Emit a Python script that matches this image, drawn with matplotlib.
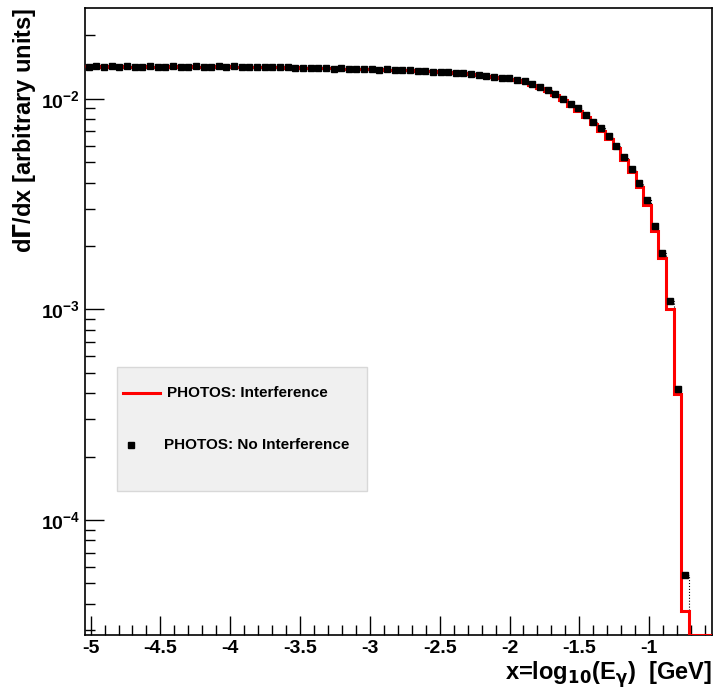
import numpy as np
import matplotlib
matplotlib.use("Agg")
import matplotlib.pyplot as plt
from matplotlib.ticker import LogLocator, MultipleLocator, NullFormatter, FixedLocator

plt.rcParams['font.family'] = ['Liberation Sans', 'DejaVu Sans']
plt.rcParams['font.weight'] = 'bold'

x_min, x_max = -5.04, -0.55
n_bins = 82
edges = np.linspace(x_min, x_max, n_bins + 1)

interference = [
    1.425e-2, 1.42e-2, 1.425e-2, 1.42e-2, 1.425e-2, 1.42e-2, 1.42e-2, 1.425e-2, 1.42e-2, 1.42e-2,
    1.425e-2, 1.42e-2, 1.425e-2, 1.425e-2, 1.42e-2, 1.42e-2, 1.425e-2, 1.42e-2, 1.425e-2, 1.42e-2,
    1.42e-2, 1.415e-2, 1.42e-2, 1.41e-2, 1.415e-2, 1.41e-2, 1.405e-2, 1.41e-2, 1.405e-2, 1.40e-2,
    1.40e-2, 1.395e-2, 1.40e-2, 1.39e-2, 1.39e-2, 1.385e-2, 1.385e-2, 1.38e-2, 1.38e-2, 1.375e-2,
    1.37e-2, 1.37e-2, 1.365e-2, 1.36e-2, 1.355e-2, 1.35e-2, 1.345e-2, 1.34e-2, 1.33e-2, 1.32e-2,
    1.31e-2, 1.30e-2, 1.29e-2, 1.27e-2, 1.26e-2, 1.245e-2, 1.23e-2, 1.20e-2, 1.165e-2, 1.13e-2,
    1.09e-2, 1.04e-2, 9.9e-3, 9.2e-3, 8.8e-3, 8.2e-3, 7.6e-3, 7.05e-3, 6.45e-3, 5.85e-3,
    5.1e-3, 4.5e-3, 3.82e-3, 3.12e-3, 2.36e-3, 1.76e-3, 1.0e-3, 3.97e-4, 3.7e-5, 0, 0, 0,
]
no_interference = [
    1.42e-2, 1.425e-2, 1.42e-2, 1.425e-2, 1.42e-2, 1.425e-2, 1.42e-2, 1.42e-2, 1.425e-2, 1.42e-2,
    1.42e-2, 1.425e-2, 1.42e-2, 1.42e-2, 1.425e-2, 1.42e-2, 1.42e-2, 1.425e-2, 1.42e-2, 1.425e-2,
    1.415e-2, 1.42e-2, 1.41e-2, 1.415e-2, 1.41e-2, 1.41e-2, 1.41e-2, 1.405e-2, 1.40e-2, 1.405e-2,
    1.395e-2, 1.40e-2, 1.39e-2, 1.395e-2, 1.385e-2, 1.39e-2, 1.38e-2, 1.385e-2, 1.375e-2, 1.38e-2,
    1.37e-2, 1.365e-2, 1.365e-2, 1.355e-2, 1.355e-2, 1.345e-2, 1.345e-2, 1.335e-2, 1.33e-2, 1.32e-2,
    1.31e-2, 1.30e-2, 1.29e-2, 1.275e-2, 1.26e-2, 1.25e-2, 1.235e-2, 1.21e-2, 1.175e-2, 1.14e-2,
    1.10e-2, 1.055e-2, 1.0e-2, 9.4e-3, 9.0e-3, 8.4e-3, 7.8e-3, 7.25e-3, 6.65e-3, 6.0e-3,
    5.3e-3, 4.65e-3, 4.0e-3, 3.3e-3, 2.5e-3, 1.85e-3, 1.1e-3, 4.2e-4, 5.5e-5, 0, 0, 0,
]

y_lo, y_hi = 2.84e-5, 2.7e-2

fig = plt.figure(figsize=(7.17, 6.96), dpi=100)
ax = fig.add_axes([85/717, 1-635/696, (712-85)/717, (635-8)/696])

red = np.array(interference, float)
red_plot = np.where(red > 0, red, y_lo)
ax.stairs(red_plot, edges, color='#ff0000', lw=2.2, zorder=3, baseline=None)

blk = np.array(no_interference, float)
centers = 0.5 * (edges[:-1] + edges[1:])
blk_plot = np.where(blk > 0, blk, y_lo)
ax.stairs(blk_plot, edges, color='black', lw=0.8, ls=':', zorder=2, baseline=None)
mask = blk > 0
ax.plot(centers[mask], blk[mask], 's', color='black', ms=4.5, zorder=4)

ax.set_yscale('log')
ax.set_xlim(x_min, x_max)
ax.set_ylim(y_lo, y_hi)

ax.xaxis.set_major_locator(MultipleLocator(0.5))
ax.xaxis.set_minor_locator(MultipleLocator(0.1))
ax.yaxis.set_major_locator(LogLocator(base=10, numticks=10))
ax.yaxis.set_minor_locator(LogLocator(base=10, subs=np.arange(2, 10), numticks=20))
ax.yaxis.set_minor_formatter(NullFormatter())
ax.tick_params(which='both', direction='in', top=False, right=False)
ax.tick_params(which='major', length=14, width=1, labelsize=14)
ax.tick_params(which='minor', length=7, width=1)
ax.tick_params(axis='x', which='major', length=14)
ax.set_xticks(np.arange(-5, -0.5, 0.5))
ax.set_xticklabels(['-5', '-4.5', '-4', '-3.5', '-3', '-2.5', '-2', '-1.5', '-1'], fontweight='bold')
for lab in ax.get_yticklabels():
    lab.set_fontweight('bold')
for s in ax.spines.values():
    s.set_linewidth(1.2)

ax.set_xlabel(r'x=log$_{\mathbf{10}}$(E$_{\mathbf{\gamma}}$)  [GeV]', fontsize=17, fontweight='bold', loc='right', labelpad=2)
ax.set_ylabel(r'd$\mathbf{\Gamma}$/dx [arbitrary units]', fontsize=17, fontweight='bold', loc='top', labelpad=2)

# legend box
lx0, lx1 = (117-85)/627, (367-85)/627
ly0, ly1 = (635-491)/627, (635-367)/627
ax.add_patch(plt.Rectangle((lx0, ly0), lx1-lx0, ly1-ly0, transform=ax.transAxes,
                           facecolor='#f0f0f0', edgecolor='#d8d8d8', lw=1, zorder=5))
yl1 = (635-393)/627
yl2 = (635-445)/627
ax.plot([(123-85)/627, (160-85)/627], [yl1, yl1], color='#ff0000', lw=2.2, transform=ax.transAxes, zorder=6)
ax.plot([(131-85)/627], [yl2], 's', color='black', ms=5, transform=ax.transAxes, zorder=6)
ax.text((167-85)/627, yl1, 'PHOTOS: Interference', transform=ax.transAxes, fontsize=11,
        fontweight='bold', va='center', zorder=6)
ax.text((164-85)/627, yl2, 'PHOTOS: No Interference', transform=ax.transAxes, fontsize=11,
        fontweight='bold', va='center', zorder=6)

fig.savefig('out.png', dpi=100)
